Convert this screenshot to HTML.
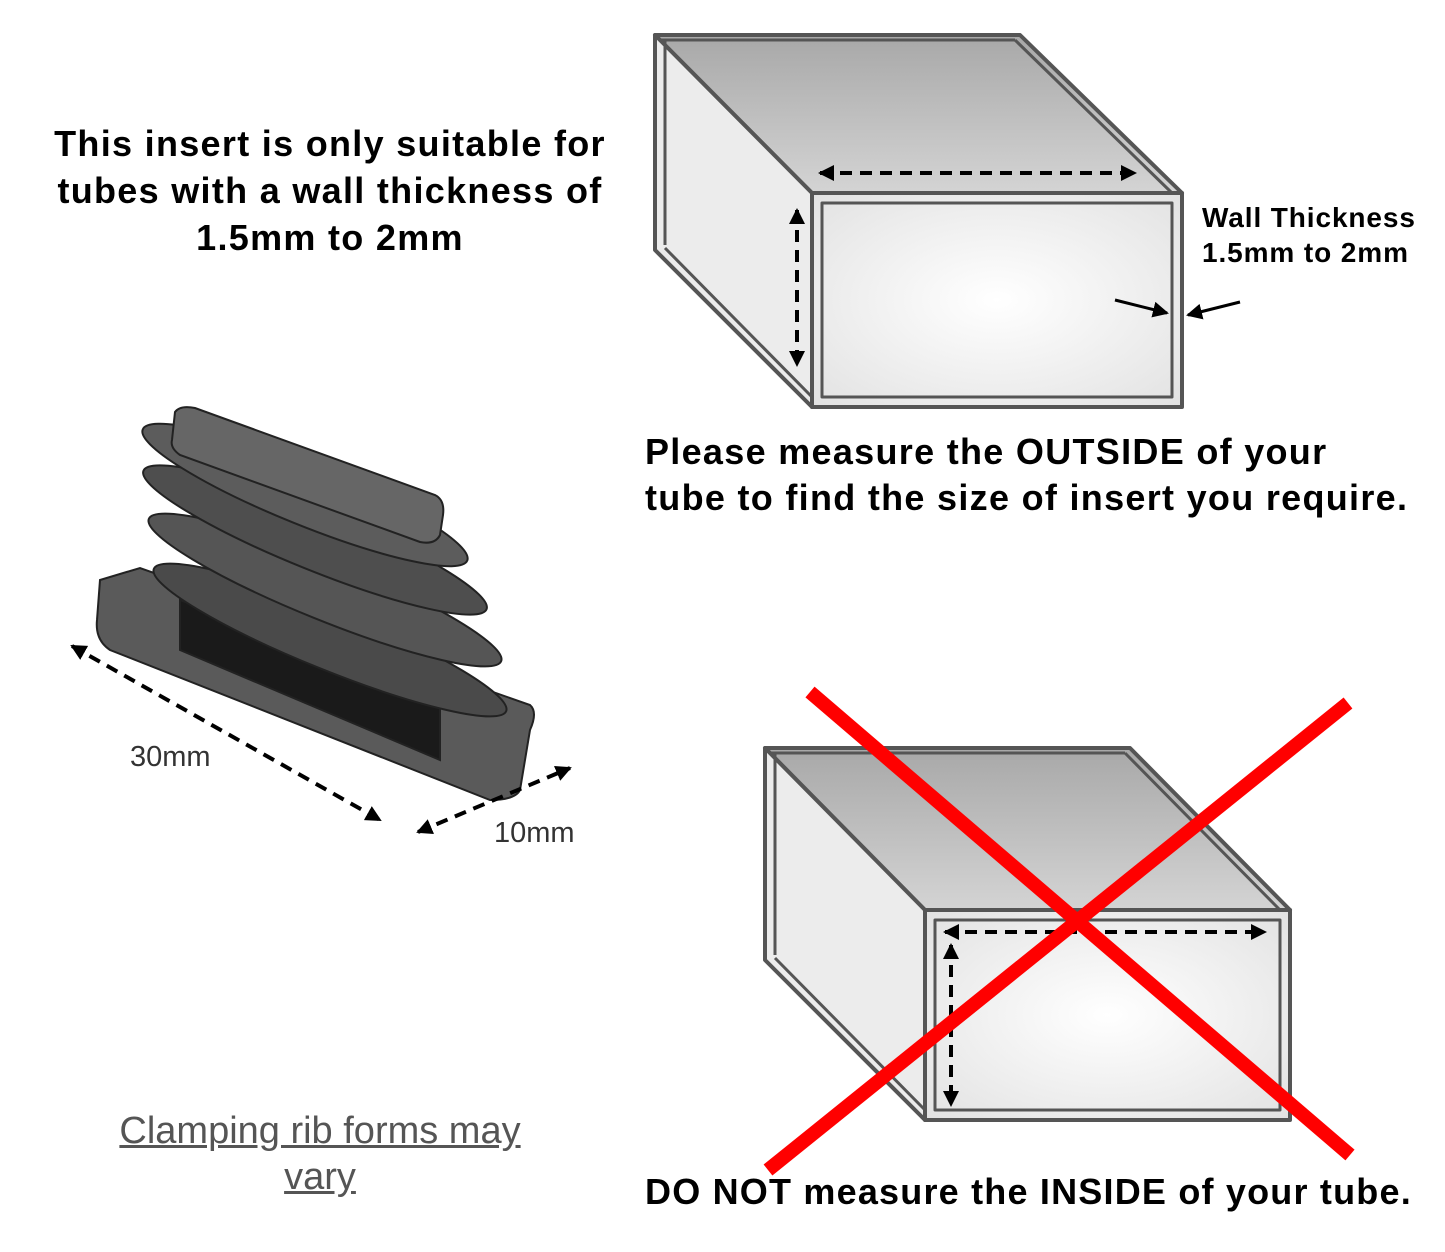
<!DOCTYPE html>
<html><head><meta charset="utf-8"><style>
html,body{margin:0;padding:0;background:#fff;}
body{width:1445px;height:1252px;position:relative;overflow:hidden;font-family:"Liberation Sans",Arial,sans-serif;}
.t{position:absolute;font-weight:bold;color:#000;white-space:nowrap;}
</style></head><body>
<div class="t" style="left:20px;top:120px;width:620px;text-align:center;font-size:36px;letter-spacing:1.3px;line-height:47px;">This insert is only suitable for<br>tubes with a wall thickness of<br>1.5mm to 2mm</div>
<div class="t" style="left:645px;top:429px;font-size:36px;letter-spacing:1.3px;line-height:46px;">Please measure the OUTSIDE of your<br>tube to find the size of insert you require.</div>
<div class="t" style="left:1202px;top:200px;font-size:28px;letter-spacing:0.9px;line-height:35px;">Wall Thickness<br>1.5mm to 2mm</div>
<div class="t" style="left:645px;top:1171px;font-size:36px;letter-spacing:1.2px;">DO NOT measure the INSIDE of your tube.</div>
<div style="position:absolute;left:80px;top:1108px;width:480px;text-align:center;font-size:38px;line-height:46px;color:#555;text-decoration:underline;">Clamping rib forms may<br>vary</div>
<div style="position:absolute;left:130px;top:741px;font-size:29px;color:#333;">30mm</div>
<div style="position:absolute;left:494px;top:817px;font-size:29px;color:#333;">10mm</div>
<svg width="1445" height="1252" style="position:absolute;left:0;top:0">
<defs>
<linearGradient id="tp" x1="0" y1="0" x2="0" y2="1"><stop offset="0" stop-color="#a8a8a8"/><stop offset="1" stop-color="#d4d4d4"/></linearGradient>
<radialGradient id="fr" cx="0.5" cy="0.5" r="0.7"><stop offset="0" stop-color="#fff"/><stop offset="1" stop-color="#e2e2e2"/></radialGradient>
<marker id="b" markerWidth="16" markerHeight="16" refX="14" refY="8" orient="auto-start-reverse" markerUnits="userSpaceOnUse"><path d="M0,0 L16,8 L0,16 z" fill="#000"/></marker>
</defs>
<g stroke="#555" stroke-width="4" stroke-linejoin="round">
<polygon points="655,35 1020,35 1182,193 812,193" fill="url(#tp)"/>
<polygon points="655,35 812,193 812,407 655,250" fill="#ececec"/>
<rect x="812" y="193" width="370" height="214" fill="url(#fr)"/>
<rect x="822" y="203" width="350" height="194" fill="none" stroke-width="3"/>
<line x1="665" y1="40" x2="665" y2="245" stroke-width="3"/>
<line x1="660" y1="40" x2="1015" y2="40" stroke-width="3"/>
<line x1="1015" y1="40" x2="1172" y2="193" stroke-width="3"/>
<line x1="665" y1="248" x2="812" y2="397" stroke-width="3"/>
</g>
<line x1="820" y1="173" x2="1135" y2="173" stroke="#000" stroke-width="4" stroke-dasharray="12,8" marker-start="url(#b)" marker-end="url(#b)"/>
<line x1="797" y1="210" x2="797" y2="365" stroke="#000" stroke-width="4" stroke-dasharray="12,8" marker-start="url(#b)" marker-end="url(#b)"/>
<line x1="1115" y1="300" x2="1167" y2="313" stroke="#000" stroke-width="3" marker-end="url(#b)"/>
<line x1="1240" y1="302" x2="1188" y2="315" stroke="#000" stroke-width="3" marker-end="url(#b)"/>
<g stroke="#555" stroke-width="4" stroke-linejoin="round">
<polygon points="765,748 1130,748 1290,910 925,910" fill="url(#tp)"/>
<polygon points="765,748 925,910 925,1120 765,960" fill="#ececec"/>
<rect x="925" y="910" width="365" height="210" fill="url(#fr)"/>
<rect x="935" y="920" width="345" height="190" fill="none" stroke-width="3"/>
<line x1="775" y1="753" x2="775" y2="955" stroke-width="3"/>
<line x1="770" y1="753" x2="1125" y2="753" stroke-width="3"/>
<line x1="1125" y1="753" x2="1280" y2="910" stroke-width="3"/>
<line x1="775" y1="958" x2="925" y2="1110" stroke-width="3"/>
</g>
<line x1="945" y1="932" x2="1265" y2="932" stroke="#000" stroke-width="4" stroke-dasharray="12,8" marker-start="url(#b)" marker-end="url(#b)"/>
<line x1="951" y1="945" x2="951" y2="1105" stroke="#000" stroke-width="4" stroke-dasharray="12,8" marker-start="url(#b)" marker-end="url(#b)"/>
<line x1="810" y1="692" x2="1350" y2="1155" stroke="#f00" stroke-width="14"/>
<line x1="1348" y1="703" x2="768" y2="1170" stroke="#f00" stroke-width="14"/>
<g stroke="#222" stroke-width="2">
<path d="M100,580 L140,568 L530,705 Q538,712 530,730 L520,790 Q515,800 490,800 L110,650 Q95,640 97,620 Z" fill="#5a5a5a"/>
<path d="M180,600 L440,700 L440,760 L180,650 Z" fill="#1a1a1a"/>
<ellipse cx="330" cy="640" rx="190" ry="30" transform="rotate(22 330 640)" fill="#4a4a4a"/>
<ellipse cx="325" cy="590" rx="190" ry="30" transform="rotate(22 325 590)" fill="#555"/>
<ellipse cx="315" cy="540" rx="185" ry="30" transform="rotate(22 315 540)" fill="#4e4e4e"/>
<ellipse cx="305" cy="495" rx="175" ry="30" transform="rotate(22 305 495)" fill="#5c5c5c"/>
<path d="M175,412 Q180,405 195,408 L435,495 Q445,500 443,515 L440,535 Q435,545 420,542 L180,455 Q170,448 172,440 Z" fill="#666"/>
</g>
<line x1="72" y1="646" x2="380" y2="820" stroke="#000" stroke-width="4" stroke-dasharray="12,8" marker-start="url(#b)" marker-end="url(#b)"/>
<line x1="418" y1="832" x2="570" y2="768" stroke="#000" stroke-width="4" stroke-dasharray="12,8" marker-start="url(#b)" marker-end="url(#b)"/>
</svg>
</body></html>
